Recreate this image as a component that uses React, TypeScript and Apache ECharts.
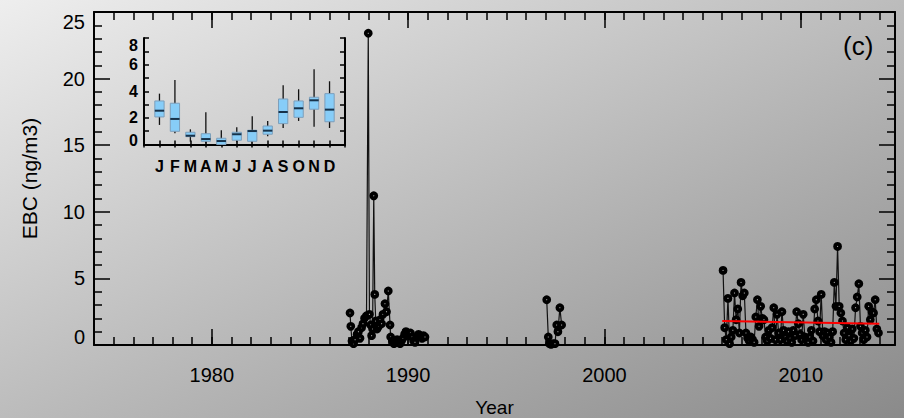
import React, { useEffect, useRef } from 'react';
import * as echarts from 'echarts';

// ---- Main time series (EBC, ng/m3) ----
const cluster1987: [number, number][] = [
  [1987.04, 2.4], [1987.08, 1.4], [1987.14, 0.3], [1987.22, 0.1], [1987.30, 0.4],
  [1987.40, 0.8], [1987.47, 1.0], [1987.55, 0.5], [1987.63, 1.3], [1987.70, 1.6],
  [1987.78, 2.0], [1987.88, 2.2], [1987.97, 23.4], [1988.03, 2.3], [1988.09, 1.5],
  [1988.14, 0.7], [1988.19, 1.2], [1988.25, 11.2], [1988.30, 3.8], [1988.35, 1.8],
  [1988.42, 1.2], [1988.50, 1.4], [1988.57, 1.9], [1988.65, 1.6], [1988.72, 2.3],
  [1988.82, 3.1], [1988.90, 2.5], [1988.99, 4.05], [1989.08, 1.5], [1989.11, 0.6],
  [1989.20, 0.3], [1989.28, 0.1], [1989.36, 0.2], [1989.44, 0.4], [1989.51, 0.2],
  [1989.59, 0.1], [1989.66, 0.3], [1989.74, 0.5], [1989.82, 0.8], [1989.89, 1.0],
  [1989.97, 0.9], [1990.05, 0.7], [1990.12, 0.9], [1990.20, 0.6], [1990.28, 0.3],
  [1990.35, 0.2], [1990.45, 0.6], [1990.53, 0.8], [1990.60, 0.7], [1990.71, 0.5],
  [1990.78, 0.7], [1990.86, 0.6],
];

const cluster1997: [number, number][] = [
  [1997.06, 3.4], [1997.14, 0.6], [1997.20, 0.1], [1997.28, 0.05], [1997.38, 0.1],
  [1997.48, 0.1], [1997.57, 1.5], [1997.63, 1.0], [1997.73, 2.8], [1997.82, 1.5],
];

const start2006 = 2006;
const monthly2006: number[] = [
  5.6, 1.3, 0.4, 3.5, 0.1, 0.6, 1.1, 3.9, 1.9, 2.7, 0.9, 4.7,
  3.7, 3.9, 0.9, 0.5, 0.3, 0.6, 0.4, 0.2, 2.1, 3.4, 1.4, 2.9,
  2.0, 1.9, 0.6, 0.3, 1.1, 0.5, 1.3, 2.8, 0.4, 2.3, 0.9, 0.4,
  2.5, 1.1, 0.6, 0.3, 1.0, 0.5, 0.2, 1.1, 0.7, 2.5, 1.6, 0.8,
  0.4, 2.3, 0.6, 0.4, 0.2, 0.6, 1.1, 0.3, 2.7, 3.4, 1.8, 1.0,
  3.8, 0.7, 1.0, 0.4, 0.9, 0.6, 0.2, 1.0, 4.7, 2.9, 7.4, 2.9,
  2.4, 1.8, 0.9, 0.4, 1.3, 0.7, 0.3, 1.2, 0.5, 2.8, 3.6, 4.6,
  1.4, 0.9, 0.4, 1.1, 0.6, 2.9, 1.9, 2.5, 2.4, 3.4, 1.2, 0.9,
];

const trendYears = [2006, 2014];
const trendValues = [1.8, 1.6];

const xMajorTicks = [1980, 1990, 2000, 2010];

// ---- Inset: monthly box plots ----
const months = ['J', 'F', 'M', 'A', 'M', 'J', 'J', 'A', 'S', 'O', 'N', 'D'];
const boxMin = [1.47, 0.84, 0.21, 0.09, 0.0, 0.17, 0.17, 0.62, 1.24, 1.77, 1.34, 1.24];
const boxQ1 = [2.07, 0.99, 0.59, 0.24, 0.0, 0.32, 0.24, 0.77, 1.57, 2.04, 2.65, 1.71];
const boxMed = [2.54, 1.92, 0.66, 0.41, 0.26, 0.77, 1.01, 1.04, 2.44, 2.72, 3.32, 2.62];
const boxQ3 = [3.27, 3.10, 0.92, 0.81, 0.47, 0.92, 1.07, 1.39, 3.42, 3.27, 3.55, 3.82];
const boxMax = [3.82, 4.85, 1.14, 2.42, 1.07, 1.29, 2.12, 1.77, 4.45, 4.15, 5.65, 4.75];

const FONT = 'Liberation Sans';

export default function App() {
  const ref = useRef<HTMLDivElement>(null);

  useEffect(() => {
    if (!ref.current) return;
    const chart = echarts.init(ref.current, undefined, { renderer: 'svg' });

    const frameLine = { show: true, lineStyle: { color: '#000', width: 2 } };
    const tickStyle = { color: '#000', width: 1.5 };
    const mainX = { gridIndex: 0, type: 'value', min: 1974, max: 2014.8, splitLine: { show: false } };
    const insetCats = ['', ...months, ''];

    const monthlyPairs = monthly2006.map((v, i) => [start2006 + (i + 0.5) / 12, v]);
    const trendPairs = trendYears.map((y, i) => [y, trendValues[i]]);
    const boxData = months.map((_, i) => [i + 1, boxMin[i], boxQ1[i], boxMed[i], boxQ3[i], boxMax[i]]);

    const pointSeries = (data: any[]) => ({
      type: 'line',
      xAxisIndex: 0,
      yAxisIndex: 0,
      data,
      symbol: 'circle',
      symbolSize: 5,
      showSymbol: true,
      lineStyle: { color: '#111', width: 1.2 },
      itemStyle: { color: '#b0b0b0', borderColor: '#000', borderWidth: 3.8 },
      z: 3,
    });

    const option: any = {
      animation: false,
      backgroundColor: 'transparent',
      grid: [
        { left: 94, top: 12, width: 801, height: 333, containLabel: false, outerBoundsMode: 'none' },
        { left: 144, top: 38, width: 201, height: 106.5, containLabel: false, outerBoundsMode: 'none' },
      ],
      xAxis: [
        {
          ...mainX,
          position: 'bottom',
          axisLine: frameLine,
          axisTick: { show: true, inside: true, length: 16, customValues: xMajorTicks, lineStyle: tickStyle },
          axisLabel: {
            show: true, customValues: xMajorTicks, fontSize: 20, margin: 20, color: '#000', fontFamily: FONT,
            formatter: (v: number) => String(v),
          },
          name: 'Year', nameLocation: 'middle', nameGap: 53,
          nameTextStyle: { fontSize: 19, lineHeight: 19, color: '#000', fontFamily: FONT },
        },
        {
          ...mainX,
          position: 'bottom',
          interval: 1,
          axisLine: { show: false },
          axisTick: { show: true, inside: true, length: 8, lineStyle: tickStyle },
          axisLabel: { show: false },
        },
        {
          ...mainX,
          position: 'top',
          axisLine: frameLine,
          axisTick: { show: true, inside: true, length: 16, customValues: xMajorTicks, lineStyle: tickStyle },
          axisLabel: { show: false },
        },
        {
          ...mainX,
          position: 'top',
          interval: 1,
          axisLine: { show: false },
          axisTick: { show: true, inside: true, length: 8, lineStyle: tickStyle },
          axisLabel: { show: false },
        },
        {
          gridIndex: 1, type: 'category', data: insetCats, boundaryGap: false, position: 'bottom',
          axisLine: frameLine,
          axisTick: { show: true, inside: true, length: 4, interval: 0, lineStyle: tickStyle },
          axisLabel: { show: true, interval: 0, fontSize: 16, fontWeight: 'bold', margin: 14, color: '#000', fontFamily: FONT },
          splitLine: { show: false },
        },
        {
          gridIndex: 1, type: 'category', data: insetCats, boundaryGap: false, position: 'top',
          axisLine: frameLine,
          axisTick: { show: true, inside: true, length: 3, interval: 0, lineStyle: tickStyle },
          axisLabel: { show: false },
          splitLine: { show: false },
        },
      ],
      yAxis: [
        {
          gridIndex: 0, type: 'value', min: 0, max: 25, interval: 5, position: 'left',
          axisLine: frameLine,
          splitLine: { show: false },
          axisTick: { show: true, inside: true, length: 16, lineStyle: tickStyle },
          minorTick: { show: true, splitNumber: 5, length: 8, lineStyle: tickStyle },
          axisLabel: {
            show: true, fontSize: 20, margin: 9, color: '#000', fontFamily: FONT,
            formatter: (v: number) => (v === 25 ? '{t|25}' : v === 0 ? '{b|0}' : String(v)),
            rich: {
              t: { padding: [20, 0, 0, 0], fontSize: 20, color: '#000', fontFamily: FONT },
              b: { padding: [0, 0, 17, 0], fontSize: 20, color: '#000', fontFamily: FONT },
            },
          },
          name: 'EBC (ng/m3)', nameLocation: 'middle', nameGap: 54, nameRotate: 90,
          nameTextStyle: { fontSize: 21, color: '#000', fontFamily: FONT },
        },
        {
          gridIndex: 0, type: 'value', min: 0, max: 25, interval: 5, position: 'right',
          axisLine: frameLine,
          splitLine: { show: false },
          axisTick: { show: true, inside: true, length: 16, lineStyle: tickStyle },
          minorTick: { show: true, splitNumber: 5, length: 8, lineStyle: tickStyle },
          axisLabel: { show: false },
        },
        {
          gridIndex: 1, type: 'value', min: 0, max: 8, interval: 2, position: 'left',
          axisLine: frameLine,
          splitLine: { show: false },
          axisTick: { show: true, inside: true, length: 5, lineStyle: tickStyle },
          minorTick: { show: true, splitNumber: 2, length: 5, lineStyle: tickStyle },
          axisLabel: {
            show: true, fontSize: 16, fontWeight: 'bold', margin: 6, color: '#000', fontFamily: FONT,
            formatter: (v: number) => (v === 8 ? '{t|8}' : v === 0 ? '{b|0}' : String(v)),
            rich: {
              t: { padding: [14, 0, 0, 0], fontSize: 16, fontWeight: 'bold', color: '#000', fontFamily: FONT },
              b: { padding: [0, 0, 9, 0], fontSize: 16, fontWeight: 'bold', color: '#000', fontFamily: FONT },
            },
          },
        },
        {
          gridIndex: 1, type: 'value', min: 0, max: 8, interval: 2, position: 'right',
          axisLine: frameLine,
          splitLine: { show: false },
          axisTick: { show: true, inside: true, length: 5, lineStyle: tickStyle },
          minorTick: { show: true, splitNumber: 2, length: 5, lineStyle: tickStyle },
          axisLabel: { show: false },
        },
      ],
      series: [
        pointSeries(cluster1987),
        pointSeries(cluster1997),
        pointSeries(monthlyPairs),
        {
          type: 'line', xAxisIndex: 0, yAxisIndex: 0, data: trendPairs,
          symbol: 'none', lineStyle: { color: '#ff0000', width: 2 }, z: 6,
        },
        {
          type: 'custom', xAxisIndex: 4, yAxisIndex: 2, data: boxData,
          encode: { x: 0, y: [1, 2, 3, 4, 5] },
          renderItem: (params: any, api: any) => {
            const x = api.value(0);
            const pMin = api.coord([x, api.value(1)]);
            const pQ1 = api.coord([x, api.value(2)]);
            const pMed = api.coord([x, api.value(3)]);
            const pQ3 = api.coord([x, api.value(4)]);
            const pMax = api.coord([x, api.value(5)]);
            const w = api.size([1, 0])[0] * 0.6;
            return {
              type: 'group',
              children: [
                { type: 'line', shape: { x1: pMin[0], y1: pMin[1], x2: pMax[0], y2: pMax[1] }, style: { stroke: '#111', lineWidth: 1.3 } },
                { type: 'rect', shape: { x: pQ3[0] - w / 2, y: pQ3[1], width: w, height: pQ1[1] - pQ3[1] }, style: { fill: '#87cdf8', stroke: '#7d9fbb', lineWidth: 1 } },
                { type: 'line', shape: { x1: pMed[0] - w / 2, y1: pMed[1], x2: pMed[0] + w / 2, y2: pMed[1] }, style: { stroke: '#17324a', lineWidth: 2 } },
              ],
            };
          },
          z: 4,
        },
      ],
      graphic: [
        {
          type: 'text', left: 843, top: 33,
          style: { text: '(c)', fontSize: 26, fill: '#000', fontFamily: FONT },
        },
      ],
    };

    chart.setOption(option);
    return () => chart.dispose();
  }, []);

  return (
    <div
      ref={ref}
      style={{
        position: 'absolute', left: 0, top: 0, width: 904, height: 418,
        background: 'linear-gradient(to bottom right, #eeeeee, #8a8a8a)',
      }}
    />
  );
}
